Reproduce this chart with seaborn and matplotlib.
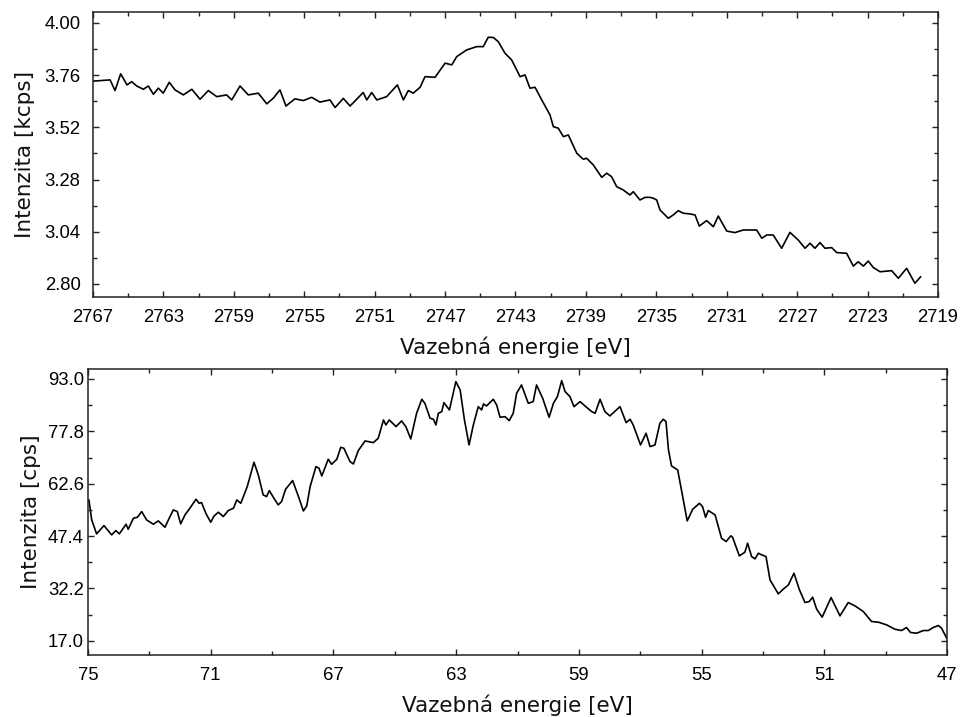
import matplotlib
matplotlib.use("Agg")
import matplotlib.pyplot as plt
import seaborn as sns
import pandas as pd
from matplotlib.ticker import AutoMinorLocator, FixedLocator

# ---------------- data ----------------
top_energy = [
    2767.00, 2766.89, 2766.03, 2765.75, 2765.43, 2765.07, 2764.80, 2764.52, 2764.14, 2763.86,
    2763.57, 2763.29, 2763.01, 2762.67, 2762.34, 2761.87, 2761.39, 2760.92, 2760.45, 2759.97,
    2759.41, 2759.12, 2758.65, 2758.18, 2757.61, 2757.13, 2756.76, 2756.38, 2756.04, 2755.53,
    2755.05, 2754.58, 2754.11, 2753.54, 2753.25, 2752.78, 2752.40, 2751.65, 2751.45, 2751.17,
    2750.88, 2750.32, 2749.71, 2749.37, 2749.09, 2748.81, 2748.42, 2748.14, 2747.57, 2747.00,
    2746.62, 2746.34, 2745.77, 2745.20, 2744.83, 2744.55, 2744.26, 2743.98, 2743.60, 2743.22,
    2742.74, 2742.46, 2742.18, 2741.89, 2741.51, 2741.04, 2740.85, 2740.57, 2740.28, 2740.00,
    2739.52, 2739.15, 2738.96, 2738.58, 2738.10, 2737.82, 2737.54, 2737.25, 2736.88, 2736.50,
    2736.31, 2735.93, 2735.64, 2735.36, 2735.17, 2734.98, 2734.79, 2734.32, 2734.04, 2733.75,
    2733.47, 2733.09, 2732.80, 2732.56, 2732.14, 2731.76, 2731.48, 2731.00, 2730.53, 2730.06,
    2729.30, 2729.01, 2728.73, 2728.36, 2727.88, 2727.41, 2726.94, 2726.55, 2726.27, 2725.99,
    2725.70, 2725.42, 2725.04, 2724.75, 2724.19, 2723.81, 2723.53, 2723.24, 2722.96, 2722.68,
    2722.29, 2721.63, 2721.25, 2720.78, 2720.31, 2719.98,
]
top_intensity = [
    3.733, 3.733, 3.738, 3.689, 3.766, 3.715, 3.730, 3.710, 3.695, 3.710,
    3.672, 3.700, 3.677, 3.727, 3.692, 3.669, 3.695, 3.649, 3.689, 3.661,
    3.669, 3.646, 3.710, 3.669, 3.677, 3.628, 3.654, 3.692, 3.618, 3.651,
    3.643, 3.658, 3.636, 3.646, 3.611, 3.653, 3.618, 3.680, 3.646, 3.680,
    3.646, 3.661, 3.715, 3.646, 3.689, 3.677, 3.704, 3.753, 3.750, 3.815,
    3.807, 3.845, 3.876, 3.891, 3.891, 3.934, 3.933, 3.914, 3.861, 3.830,
    3.753, 3.761, 3.700, 3.704, 3.646, 3.577, 3.523, 3.516, 3.477, 3.485,
    3.401, 3.373, 3.378, 3.347, 3.290, 3.309, 3.293, 3.247, 3.232, 3.209,
    3.224, 3.186, 3.198, 3.198, 3.194, 3.186, 3.140, 3.102, 3.117, 3.137,
    3.125, 3.122, 3.117, 3.066, 3.091, 3.063, 3.112, 3.043, 3.036, 3.048,
    3.048, 3.010, 3.025, 3.025, 2.964, 3.037, 3.002, 2.964, 2.987, 2.964,
    2.990, 2.964, 2.967, 2.944, 2.941, 2.882, 2.902, 2.882, 2.905, 2.876,
    2.856, 2.861, 2.826, 2.872, 2.803, 2.833,
]

bottom_energy = [
    74.97, 74.88, 74.72, 74.48, 74.23, 74.09, 73.98, 73.76, 73.69, 73.52,
    73.39, 73.25, 73.09, 72.87, 72.71, 72.49, 72.38, 72.22, 72.09, 71.98,
    71.84, 71.68, 71.48, 71.38, 71.30, 71.15, 71.00, 70.89, 70.75, 70.59,
    70.43, 70.26, 70.15, 70.02, 69.81, 69.59, 69.45, 69.29, 69.18, 69.09,
    68.96, 68.80, 68.69, 68.56, 68.33, 68.14, 67.98, 67.87, 67.76, 67.57,
    67.47, 67.38, 67.17, 67.06, 66.89, 66.76, 66.66, 66.46, 66.35, 66.19,
    65.97, 65.70, 65.54, 65.37, 65.29, 65.18, 64.96, 64.78, 64.64, 64.48,
    64.29, 64.12, 64.02, 63.85, 63.74, 63.66, 63.58, 63.47, 63.40, 63.22,
    63.01, 62.87, 62.73, 62.58, 62.44, 62.28, 62.17, 62.11, 62.01, 61.79,
    61.68, 61.57, 61.41, 61.27, 61.14, 61.03, 60.87, 60.65, 60.49, 60.38,
    60.18, 59.97, 59.83, 59.70, 59.56, 59.45, 59.29, 59.16, 58.96, 58.75,
    58.58, 58.47, 58.31, 58.15, 57.99, 57.66, 57.46, 57.33, 57.23, 56.99,
    56.81, 56.68, 56.52, 56.36, 56.25, 56.16, 56.08, 55.98, 55.78, 55.62,
    55.47, 55.29, 55.07, 54.97, 54.87, 54.78, 54.56, 54.35, 54.20, 54.05,
    53.99, 53.77, 53.59, 53.50, 53.37, 53.26, 53.15, 53.04, 52.90, 52.77,
    52.50, 52.34, 52.17, 51.99, 51.81, 51.63, 51.49, 51.38, 51.25, 51.07,
    50.78, 50.49, 50.22, 50.00, 49.73, 49.46, 49.24, 48.97, 48.70, 48.48,
    48.32, 48.19, 47.99, 47.77, 47.61, 47.45, 47.28, 47.18, 47.01,
]
bottom_intensity = [
    57.90, 52.10, 48.04, 50.45, 47.75, 49.00, 48.04, 50.84, 49.39, 52.58,
    52.87, 54.52, 52.10, 50.84, 51.81, 49.97, 52.10, 55.00, 54.52, 50.94,
    53.55, 55.48, 58.09, 56.93, 57.13, 53.84, 51.42, 53.26, 54.32, 53.07,
    54.81, 55.48, 57.90, 56.93, 61.77, 68.83, 65.15, 59.35, 58.87, 60.61,
    58.67, 56.45, 57.42, 61.00, 63.51, 58.87, 54.71, 56.16, 61.77, 67.57,
    67.09, 64.86, 69.70, 68.24, 69.70, 73.18, 72.89, 69.02, 68.34, 72.21,
    75.01, 74.53, 75.79, 81.11, 79.66, 81.11, 79.17, 80.82, 79.17, 75.59,
    83.04, 87.10, 85.94, 81.59, 81.30, 79.66, 83.04, 83.52, 86.13, 84.01,
    92.23, 89.81, 81.11, 73.85, 79.66, 84.97, 84.01, 85.75, 85.17, 87.10,
    85.46, 81.88, 82.07, 80.91, 83.04, 88.84, 91.26, 85.94, 86.42, 91.26,
    87.39, 81.88, 85.94, 87.87, 92.52, 89.33, 87.87, 84.97, 86.42, 84.78,
    83.52, 83.04, 87.10, 83.52, 82.27, 84.97, 80.33, 81.30, 79.66, 73.85,
    77.24, 73.37, 73.85, 80.14, 81.30, 80.62, 72.40, 67.76, 66.60, 59.06,
    51.81, 55.19, 56.93, 55.97, 52.87, 54.81, 53.55, 46.78, 45.81, 47.46,
    47.07, 41.65, 42.72, 45.33, 41.46, 40.79, 42.43, 41.95, 41.46, 34.69,
    30.63, 31.99, 33.24, 36.63, 31.79, 28.12, 28.41, 29.67, 26.19, 23.87,
    29.57, 24.25, 28.12, 27.15, 25.51, 22.61, 22.42, 21.64, 20.38, 20.00,
    20.87, 19.42, 19.22, 20.00, 20.00, 20.87, 21.45, 20.68, 17.77,
]

top_xticks = [2767, 2763, 2759, 2755, 2751, 2747, 2743, 2739, 2735, 2731, 2727, 2723, 2719]
top_yticks = [2.80, 3.04, 3.28, 3.52, 3.76, 4.00]
bottom_xticks = [75, 71, 67, 63, 59, 55, 51, 47]
bottom_yticks = [17.0, 32.2, 47.4, 62.6, 77.8, 93.0]

xlabel_text = "Vazebná energie [eV]"
top_ylabel = "Intenzita [kcps]"
bottom_ylabel = "Intenzita [cps]"

# ---------------- style ----------------
sns.set_theme(style="white")
plt.rcParams["font.family"] = ["DejaVu Sans"]

fig = plt.figure(figsize=(9.64, 7.17), dpi=100)
ax1 = fig.add_axes([0.0965, 0.5858, 0.8765, 0.3968])
ax2 = fig.add_axes([0.0913, 0.0865, 0.8911, 0.3989])

df_top = pd.DataFrame({"E": top_energy, "I": top_intensity})
df_bot = pd.DataFrame({"E": bottom_energy, "I": bottom_intensity})

sns.lineplot(data=df_top, x="E", y="I", ax=ax1, color="black", linewidth=1.2,
             estimator=None, sort=False)
sns.lineplot(data=df_bot, x="E", y="I", ax=ax2, color="black", linewidth=1.2,
             estimator=None, sort=False)

tick_font = dict(family="Liberation Sans", size=13.3, color="black")


def style_axis(ax, xticks, yticks, xlim, ylim, yfmt, ylabel, ypad, ylabelpad):
    ax.set_xlim(*xlim)
    ax.set_ylim(*ylim)
    ax.xaxis.set_major_locator(FixedLocator(xticks))
    ax.yaxis.set_major_locator(FixedLocator(yticks))
    ax.set_xticklabels([str(t) for t in xticks], fontdict=tick_font)
    ax.set_yticklabels([yfmt.format(t) for t in yticks], fontdict=tick_font)
    ax.xaxis.set_minor_locator(AutoMinorLocator(2))
    ax.yaxis.set_minor_locator(AutoMinorLocator(2))
    ax.tick_params(which="both", direction="in", top=True, right=True,
                   bottom=True, left=True, color="#222222", width=1.0)
    ax.tick_params(which="major", length=4.5)
    ax.tick_params(which="minor", length=3)
    ax.tick_params(axis="x", which="major", pad=9)
    ax.tick_params(axis="y", which="major", pad=ypad)
    for s in ax.spines.values():
        s.set_color("#222222")
        s.set_linewidth(1.1)
    ax.set_xlabel(xlabel_text, fontsize=15.5, labelpad=7, color="#111111")
    ax.set_ylabel(ylabel, fontsize=15.5, labelpad=ylabelpad, color="#111111")
    ax.set_facecolor("white")


style_axis(ax1, top_xticks, top_yticks, (2767, 2719), (2.74, 4.048), "{:.2f}",
           top_ylabel, 9, 7)
style_axis(ax2, bottom_xticks, bottom_yticks, (75, 47), (12.9, 95.9), "{:.1f}",
           bottom_ylabel, 3, 5)

fig.savefig("out.png", dpi=100, facecolor="white")
